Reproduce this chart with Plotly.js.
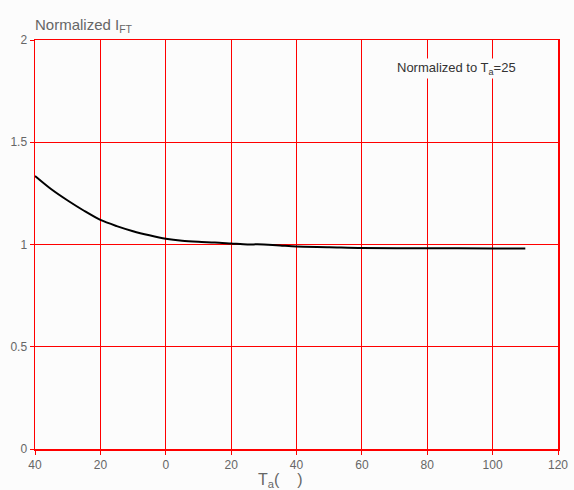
<!DOCTYPE html>
<html><head><meta charset="utf-8">
<script src="https://cdn.plot.ly/plotly-3.0.1.min.js"></script>
<style>html,body{margin:0;padding:0;background:#fcfcfc;}</style>
</head><body>
<div id="chart" style="width:574px;height:490px;"></div>
<script>
const temps = [-40,-35,-30,-25,-20,-15,-10,-5,0,5,10,15,20,25,28,30,35,40,50,60,80,100,110];
const ift   = [1.335,1.27,1.215,1.165,1.12,1.09,1.065,1.045,1.028,1.018,1.013,1.01,1.005,1.0,1.001,1.0,0.995,0.99,0.987,0.983,0.982,0.981,0.981];
const xTickVals = [-40,-20,0,20,40,60,80,100,120];
const xTickText = ['40','20','0','20','40','60','80','100','120'];
const yTickVals = [0,0.5,1,1.5,2];
const yTickText = ['0','0.5','1','1.5','2'];

const fontFam = '"Liberation Sans", Arial, sans-serif';
const trace = {x: temps, y: ift, type:'scatter', mode:'lines', line:{color:'#000', width:2, shape:'spline', smoothing:0.8}, hoverinfo:'none'};
const layout = {
  width:574, height:490,
  margin:{l:35, r:16, t:40, b:41},
  paper_bgcolor:'#fcfcfc', plot_bgcolor:'#fcfcfc',
  showlegend:false,
  font:{family:fontFam, color:'#666', size:12},
  xaxis:{range:[-40,120], tickvals:xTickVals, ticktext:xTickText, showgrid:true, gridcolor:'#ff0000', gridwidth:1,
    showline:true, linecolor:'#ff0000', linewidth:1.5, mirror:true, zeroline:false, ticks:'outside', ticklen:4, tickcolor:'#ff0000',
    tickfont:{family:fontFam, size:12, color:'#666'}},
  yaxis:{range:[0,2], tickvals:yTickVals, ticktext:yTickText, showgrid:true, gridcolor:'#ff0000', gridwidth:1,
    showline:true, linecolor:'#ff0000', linewidth:1.5, mirror:true, zeroline:false, ticks:'outside', ticklen:4, tickcolor:'#ff0000',
    tickfont:{family:fontFam, size:12, color:'#666'}},
  annotations:[
    {xref:'paper', yref:'paper', x:-0.003, y:1.0, yshift:3, xanchor:'left', yanchor:'bottom', showarrow:false,
     text:'Normalized I<sub>FT</sub>', font:{family:fontFam, size:15, color:'#666'}},
    {xref:'x', yref:'y', x:89, y:1.86, xanchor:'center', yanchor:'middle', showarrow:false,
     text:'Normalized to T<sub>a</sub>=25', font:{family:fontFam, size:13, color:'#333'}, bgcolor:'#fcfcfc'},
    {xref:'paper', yref:'paper', x:0.468, y:0, yshift:-20, xanchor:'center', yanchor:'top', showarrow:false,
     text:'T<sub>a</sub>(    )', font:{family:fontFam, size:16, color:'#666'}}
  ]
};
Plotly.newPlot('chart', [trace], layout, {displayModeBar:false, staticPlot:true});
</script>
</body></html>
